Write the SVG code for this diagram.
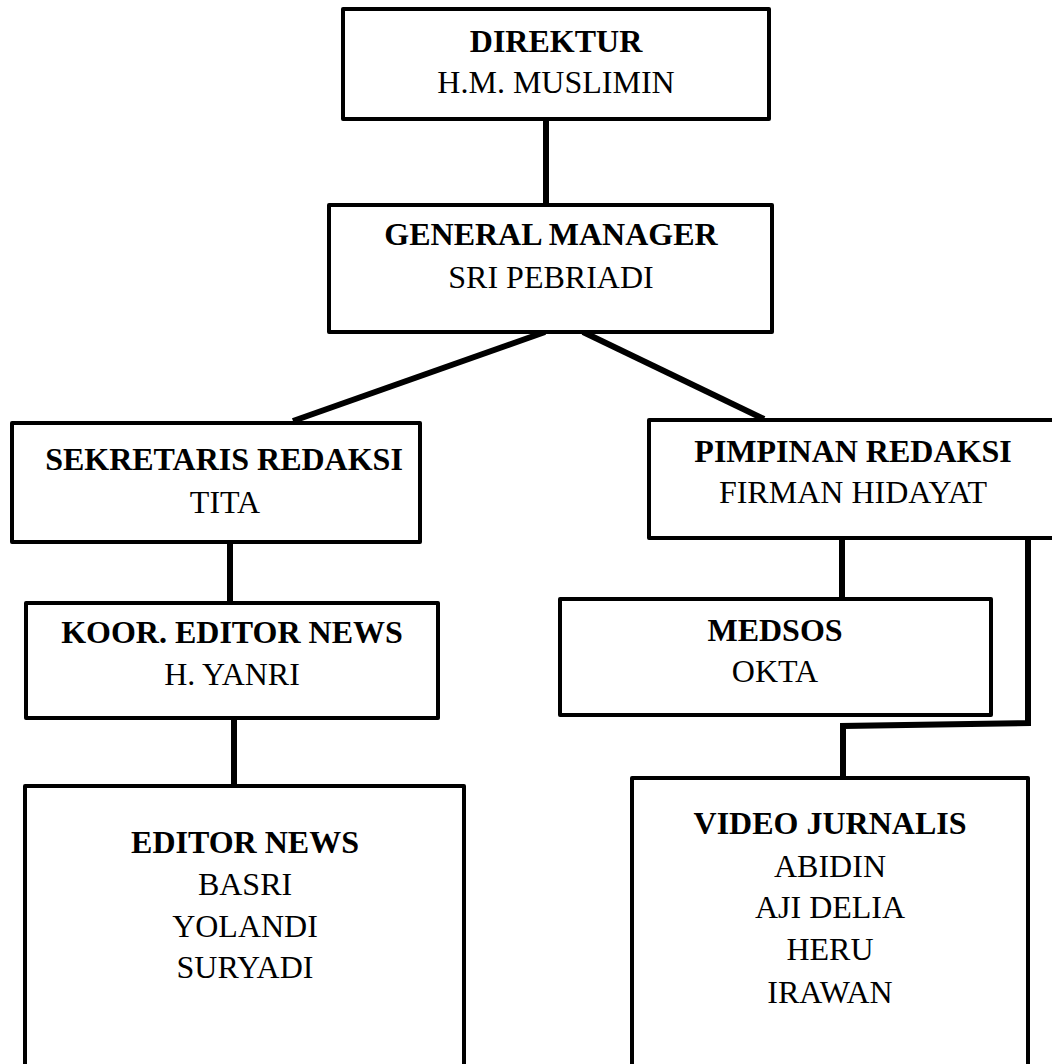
<svg xmlns="http://www.w3.org/2000/svg" width="1052" height="1064" viewBox="0 0 1052 1064">
<style>
.box{fill:#fff;stroke:#000;stroke-width:4;stroke-linejoin:round}
.conn{fill:none;stroke:#000;stroke-width:6;stroke-linejoin:miter}
text{font-family:"Liberation Serif","Times New Roman",serif;font-size:32px;fill:#000;text-anchor:middle}
.b{font-weight:bold}
</style>
<rect width="1052" height="1064" fill="#fff"/>
<g id="connectors">
<line class="conn" x1="546" y1="121" x2="546" y2="205"/>
<line class="conn" x1="545" y1="332" x2="293" y2="421"/>
<line class="conn" x1="583" y1="332" x2="764" y2="419"/>
<line class="conn" x1="230" y1="542" x2="230" y2="603"/>
<line class="conn" x1="234" y1="718" x2="234" y2="786"/>
<line class="conn" x1="842" y1="538" x2="842" y2="599"/>
<polyline class="conn" points="1028,538 1028,723 843,726 843,778"/>
</g>
<g id="direktur">
<rect class="box" x="343" y="9" width="426" height="110"/>
<text class="b" x="556" y="52">DIREKTUR</text>
<text x="556" y="93">H.M. MUSLIMIN</text>
</g>
<g id="general-manager">
<rect class="box" x="329" y="205" width="443" height="127"/>
<text class="b" x="551" y="245">GENERAL MANAGER</text>
<text x="551" y="288">SRI PEBRIADI</text>
</g>
<g id="sekretaris-redaksi">
<rect class="box" x="12" y="423" width="408" height="119"/>
<text class="b" x="224" y="470">SEKRETARIS REDAKSI</text>
<text x="225" y="513">TITA</text>
</g>
<g id="pimpinan-redaksi">
<rect class="box" x="649" y="420" width="412" height="118"/>
<text class="b" x="853" y="462">PIMPINAN REDAKSI</text>
<text x="853" y="503">FIRMAN HIDAYAT</text>
</g>
<g id="koor-editor-news">
<rect class="box" x="26" y="603" width="412" height="115"/>
<text class="b" x="232" y="643">KOOR. EDITOR NEWS</text>
<text x="232" y="685">H. YANRI</text>
</g>
<g id="medsos">
<rect class="box" x="560" y="599" width="431" height="116"/>
<text class="b" x="775" y="641">MEDSOS</text>
<text x="775" y="682">OKTA</text>
</g>
<g id="editor-news">
<rect class="box" x="25" y="786" width="439" height="280"/>
<text class="b" x="245" y="853">EDITOR NEWS</text>
<text x="245" y="895">BASRI</text>
<text x="245" y="937">YOLANDI</text>
<text x="245" y="978">SURYADI</text>
</g>
<g id="video-jurnalis">
<rect class="box" x="632" y="778" width="396" height="288"/>
<text class="b" x="830" y="834">VIDEO JURNALIS</text>
<text x="830" y="877">ABIDIN</text>
<text x="830" y="918">AJI DELIA</text>
<text x="830" y="960">HERU</text>
<text x="830" y="1003">IRAWAN</text>
</g>
</svg>
